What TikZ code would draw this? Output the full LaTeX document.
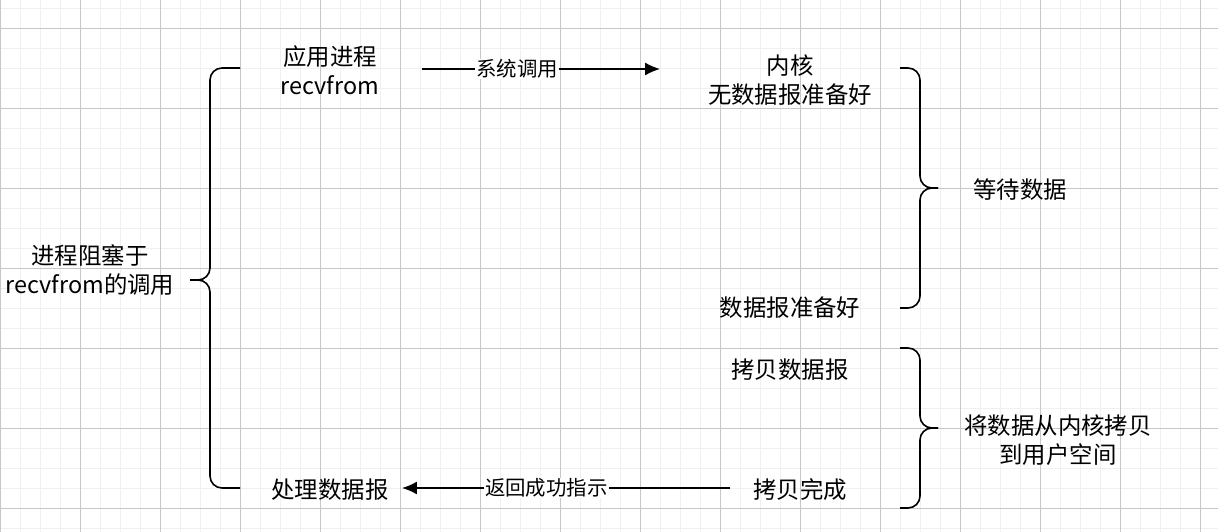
\documentclass[tikz,border=0pt]{standalone}
\usepackage{fontspec}
\usetikzlibrary{arrows.meta}
\setmainfont{Noto Sans CJK SC}
\begin{document}
\begin{tikzpicture}[x=1bp,y=-1bp,
  txt/.style={font=\fontsize{23.5}{29}\selectfont,inner sep=0pt,align=center},
  lbl/.style={font=\fontsize{20.5}{24}\selectfont,fill=white,inner sep=1pt},
  brace/.style={draw=black,line width=1.6pt,rounded corners=12},
  conn/.style={draw=black,line width=1.4pt,-{Latex[length=15pt,width=13pt]}}]
\useasboundingbox (0,0) rectangle (1218,532);
\fill[white] (0,0) rectangle (1218,532);
\foreach \x in {0,20,...,1218} \draw[color=black!6,line width=0.8pt] (\x,0) -- (\x,532);
\foreach \y in {8,28,...,532} \draw[color=black!6,line width=0.8pt] (0,\y) -- (1218,\y);
\foreach \x in {0,80,...,1218} \draw[color=black!22,line width=0.8pt] (\x,0) -- (\x,532);
\foreach \y in {28,108,...,532} \draw[color=black!22,line width=0.8pt] (0,\y) -- (1218,\y);
\draw[brace] (240,68) -| (210,280) -- (190,280);
\draw[brace] (240,488) -| (210,280) -- (190,280);
\draw[brace] (900,68) -| (920,188) -- (938,188);
\draw[brace] (900,308) -| (920,188) -- (938,188);
\draw[brace] (900,348) -| (920,428) -- (938,428);
\draw[brace] (900,508) -| (920,428) -- (938,428);
\node[txt] (app) at (330,70) {应用进程\\recvfrom};
\node[txt] (kern) at (790,80) {内核\\无数据报准备好};
\node[txt] (wait) at (1020,190) {等待数据};
\node[txt] (block) at (90,270) {进程阻塞于\\recvfrom的调用};
\node[txt] (ready) at (790,308) {数据报准备好};
\node[txt] (copy) at (790,370) {拷贝数据报};
\node[txt] (copyk) at (1058,440) {将数据从内核拷贝\\到用户空间};
\node[txt] (proc) at (330,490) {处理数据报};
\node[txt] (done) at (800,490) {拷贝完成};
\coordinate (a1) at (422,69);
\coordinate (a2) at (660,69);
\coordinate (b1) at (730,488);
\coordinate (b2) at (402,488);
\draw[conn] (a1) -- node[lbl,pos=0.4] (l1) {系统调用} (a2);
\draw[conn] (b1) -- node[lbl,pos=0.56] (l2) {返回成功指示} (b2);
\end{tikzpicture}
\end{document}
